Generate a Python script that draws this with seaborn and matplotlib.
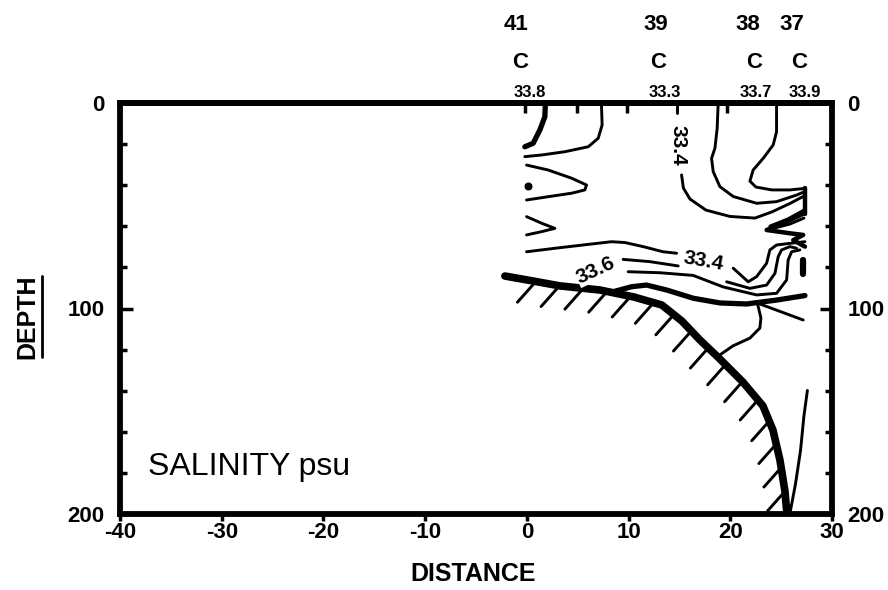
import numpy as np
import matplotlib
matplotlib.use("Agg")
import matplotlib.pyplot as plt
import seaborn as sns

# axis values
dist_ticks = [-40, -30, -20, -10, 0, 10, 20, 30]
depth_ticks = [0, 100, 200]
depth_minor = [20, 40, 60, 80, 120, 140, 160, 180]
top_marks = [-0.2, 4.9, 9.8, 19.7]

# stations along the top
stations = ["41", "39", "38", "37"]
station_x = [-1.1, 12.7, 21.7, 26.1]
cast_x = [-0.7, 12.9, 22.3, 26.8]
surface_sal = ["33.8", "33.3", "33.7", "33.9"]
surface_x = [0.3, 13.6, 22.5, 27.3]

# bottom profile (distance, depth)
seafloor = ([-2.16, 0.59, 3.24, 7.18, 10.52, 13.27, 15.24, 17.01, 18.88, 21.24, 23.21, 24.19, 24.88, 25.37, 25.57],
            [84.2, 86.6, 89.0, 91.0, 94.4, 98.3, 106.1, 115.3, 124.1, 135.8, 147.4, 159.1, 173.7, 188.8, 200])

# isohalines, heavy ones
iso_a = ([1.82, 1.77, 1.28, 0.62, -0.20], [0, 6.7, 13.1, 19.6, 21.3])
iso_t2 = ([8.36, 10.30, 11.77, 13.74, 16.35, 18.98, 21.60, 24.55, 27.34],
          [92.0, 89.4, 88.6, 91.0, 95.0, 97.3, 97.8, 95.9, 93.7])
zigzag = ([27.34, 25.54, 23.57, 25.86, 27.17, 26.19, 27.34], [53.5, 57.8, 61.8, 63.4, 64.2, 66.7, 69.9])
bracket = ([27.34, 27.34], [41.4, 54.0])
oval = ([27.17, 27.17], [76.5, 83.0])

# isohalines, thin ones
iso_b = ([7.33, 7.40, 7.01, 6.03, 3.74, 1.45, -0.20], [0, 10.7, 17.2, 21.3, 23.7, 25.3, 26.1])
iso_c = ([-0.03, 2.09, 4.40, 5.87, 5.70, 4.40, 2.09, -0.03], [30.2, 32.6, 36.6, 39.9, 42.3, 43.9, 45.6, 47.2])
iso_d = ([-0.03, 1.45, 2.75, 1.45, -0.03], [55.3, 58.5, 61.0, 62.6, 64.2])
iso_e = ([-0.03, 2.75, 6.03, 8.33, 9.64, 11.44, 13.40, 14.72], [72.4, 70.7, 68.8, 67.5, 67.9, 69.9, 72.4, 73.1])
iso_f = ([9.47, 12.09, 14.88], [76.1, 77.2, 79.3])
iso_g = ([9.96, 13.08, 16.35, 19.30, 22.59, 24.55, 25.54, 25.69, 26.03, 26.84],
         [82.1, 82.6, 83.9, 89.5, 93.4, 92.6, 86.1, 76.4, 72.4, 71.5])
iso_j = ([19.64, 21.93, 23.57, 24.39, 24.71, 25.04, 25.86, 26.52], [87.0, 90.2, 88.6, 82.9, 74.8, 71.5, 69.9, 70.7])
iso_v = ([20.29, 21.76, 22.59, 23.57, 23.89, 24.55, 25.86, 27.34], [80.4, 87.0, 84.5, 78.0, 71.5, 69.1, 68.3, 67.5])
iso_334_top = ([14.72, 14.72], [0, 4.9])
iso_334 = ([15.21, 15.39, 16.03, 17.60, 19.96, 22.42, 24.09, 25.86, 27.24],
           [35.0, 41.4, 46.7, 52.1, 55.2, 56.0, 53.0, 48.9, 45.3])
iso_h2 = ([18.81, 18.71, 18.49, 18.16, 18.32, 18.98, 20.29, 22.59, 24.55, 26.52, 27.24],
          [0, 12.3, 22.0, 26.9, 33.4, 40.7, 45.5, 48.8, 48.0, 44.8, 43.3])
iso_h3 = ([24.55, 24.55, 24.22, 23.24, 22.25, 21.93, 22.52, 24.09, 25.86, 27.24],
          [0, 14.0, 20.4, 26.9, 32.6, 38.0, 40.9, 42.3, 42.3, 41.6])
fan1 = ([23.89, 25.66, 27.24], [59.9, 56.4, 52.1])
fan2 = ([24.39, 25.86, 27.24], [60.8, 58.9, 56.0])
branch_down = ([22.71, 23.01, 22.91, 21.93, 20.26, 18.68], [98.3, 104.6, 109.5, 114.4, 118.2, 123.6])
branch_right = ([22.91, 27.17], [97.8, 105.6])
deep_line = ([27.58, 27.24, 26.91, 26.41, 25.91], [139.9, 152.3, 168.9, 185.4, 198.5])

# contour labels: text, distance, depth, rotation
labels_txt = ["33.4", "33.4", "33.6"]
labels_x = [14.85, 17.40, 6.78]
labels_z = [20.4, 76.9, 81.3]
labels_rot = [-90, -10, 25]

# plotting
sns.set_theme(style="ticks")
plt.rcParams["font.family"] = ["Liberation Sans", "DejaVu Sans"]
plt.rcParams["font.weight"] = "bold"
plt.rcParams["axes.labelweight"] = "bold"
plt.rcParams["axes.unicode_minus"] = False
for key in ["text.color", "axes.labelcolor", "xtick.color", "ytick.color", "axes.edgecolor"]:
    plt.rcParams[key] = "black"

fig = plt.figure(figsize=(8.88, 5.9), dpi=100)
ax = fig.add_axes([120 / 888, 76 / 590, 712 / 888, 411 / 590])
ax.set_xlim(-40, 30)
ax.set_ylim(200, 0)


def trace(line, lw):
    sns.lineplot(x=line[0], y=line[1], sort=False, estimator=None, color="black", lw=lw,
                 ax=ax, legend=False, solid_capstyle="round", solid_joinstyle="round")


for line in [iso_b, iso_c, iso_d, iso_e, iso_f, iso_g, iso_j, iso_v, iso_334_top, iso_334,
             iso_h2, iso_h3, fan1, fan2, branch_down, branch_right, deep_line]:
    trace(line, 2.1)
for line in [iso_a, iso_t2]:
    trace(line, 3.8)
trace(zigzag, 3.2)
trace(bracket, 3.2)
trace(oval, 4.5)
trace(seafloor, 5.5)
sns.scatterplot(x=[0.07], y=[40.2], s=40, color="black", ax=ax, legend=False)

ax.set_xlim(-40, 30)
ax.set_ylim(200, 0)

# hatching under the bottom line
pts = ax.transData.transform(np.column_stack(seafloor))
arc = np.concatenate([[0], np.cumsum(np.hypot(*np.diff(pts, axis=0).T))])
s = np.arange(30, arc[-1] - 10, 24)
hx = np.interp(s, arc, pts[:, 0])
hy = np.interp(s, arc, pts[:, 1])
inv = ax.transData.inverted()
for x0, y0 in zip(hx, hy):
    a = inv.transform((x0 - 1, y0 - 3))
    b = inv.transform((x0 - 17, y0 - 21))
    ax.plot([a[0], b[0]], [a[1], b[1]], color="black", lw=2.1, solid_capstyle="round")

for t, x, z, r in zip(labels_txt, labels_x, labels_z, labels_rot):
    ax.text(x, z, t, rotation=r, ha="center", va="center", fontsize=15,
            bbox=dict(facecolor="white", edgecolor="none", pad=0.5))

# stations on top
for t, x in zip(stations, station_x):
    ax.text(x, -38, t, ha="center", va="center", fontsize=16)
for x in cast_x:
    ax.text(x, -19.5, "C", ha="center", va="center", fontsize=16)
for t, x in zip(surface_sal, surface_x):
    ax.text(x, -5, t, ha="center", va="center", fontsize=12)

ax.text(0.039, 0.114, "SALINITY psu", transform=ax.transAxes, ha="left", va="center",
        fontsize=23, fontweight="normal")

# axes styling
ax.set_xticks(dist_ticks)
ax.set_yticks(depth_ticks)
ax.set_yticks(depth_minor, minor=True)
ax.tick_params(axis="x", which="major", direction="out", length=5, width=2.5, pad=1,
               labelsize=16)
ax.tick_params(axis="y", which="both", direction="in", left=True, right=True,
               labelleft=True, labelright=True)
ax.tick_params(axis="y", which="major", length=9, width=2.5, pad=11, labelsize=16)
ax.tick_params(axis="y", which="minor", length=5, width=2.5)
for sp in ax.spines.values():
    sp.set_linewidth(4.2)
sec = ax.secondary_xaxis("top")
sec.set_xticks(top_marks)
sec.set_xticklabels([])
sec.tick_params(direction="in", length=7, width=2.5)
sec.spines["top"].set_linewidth(4.2)

ax.set_xlabel("DISTANCE", fontsize=18, fontweight="bold")
ax.xaxis.set_label_coords(0.496, -0.117)
ax.set_ylabel("DEPTH", fontsize=18, fontweight="bold")
ax.yaxis.set_label_coords(-0.113, 0.48)

# underline of DEPTH
fig.canvas.draw()
bb = ax.yaxis.label.get_window_extent()
p0 = fig.transFigure.inverted().transform((bb.x1 + 2, bb.y0 + 2))
p1 = fig.transFigure.inverted().transform((bb.x1 + 2, bb.y1 - 2))
fig.add_artist(plt.Line2D([p0[0], p1[0]], [p0[1], p1[1]], color="black", lw=2))

fig.savefig("out.png", dpi=100)
